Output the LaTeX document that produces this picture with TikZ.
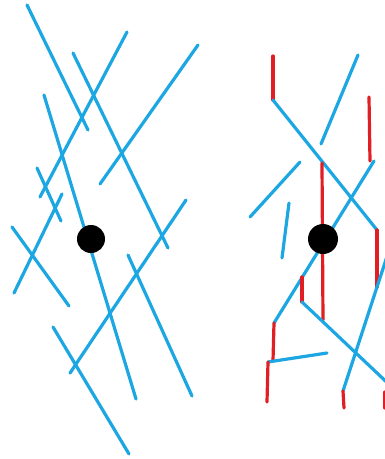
\documentclass[tikz,border=0pt]{standalone}
\definecolor{stickblue}{RGB}{29,167,226}
\definecolor{stickred}{RGB}{224,30,36}
\tikzset{
  bl/.style={draw=stickblue, line width=3.2pt, line cap=round},
  rd/.style={draw=stickred, line width=3.2pt, line cap=round},
  dot/.style={fill=black}
}
\begin{document}
\begin{tikzpicture}[x=1pt,y=-1pt]
\useasboundingbox (0,0) rectangle (385,459);
\clip (0,0) rectangle (385,459);
% left panel
\draw[bl] (27,5) -- (88,130);
\draw[bl] (127,32) -- (40,197);
\draw[bl] (73,53) -- (168,248);
\draw[bl] (198,45) -- (100,184);
\draw[bl] (44,95) -- (136,399);
\draw[bl] (37,168) -- (61,221);
\draw[bl] (62,194) -- (14,293);
\draw[bl] (12,227) -- (69,306);
\draw[bl] (186,200) -- (70,373);
\draw[bl] (128,255) -- (192,396);
\draw[bl] (53,327) -- (129,454);
\fill[dot] (91,239) circle (14);
% right panel
\coordinate (a1) at (273,56);
\coordinate (a2) at (273,100);
\coordinate (a3) at (377,230);
\coordinate (a4) at (377,287);
\draw[rd] (a1) -- (a2);
\draw[bl] (a2) -- (a3);
\draw[rd] (a3) -- (a4);
\draw[bl] (395,232) -- (343,391);
\draw[rd] (343,391) -- (344,408);
\draw[bl] (358,55) -- (321,144);
\draw[rd] (369,97) -- (370,161);
\draw[bl] (374,161) -- (274,323);
\draw[rd] (322,163) -- (323,320);
\draw[bl] (300,162) -- (250,217);
\draw[bl] (289,203) -- (282,258);
\draw[rd] (302,277) -- (302,302);
\draw[bl] (302,302) -- (395,390);
\draw[rd] (385,392) -- (385,408);
\draw[rd] (274,323) -- (273,361);
\draw[bl] (268,362) -- (327,353);
\draw[rd] (268,362) -- (267,402);
\fill[dot] (323,239) circle (15);
\end{tikzpicture}
\end{document}
